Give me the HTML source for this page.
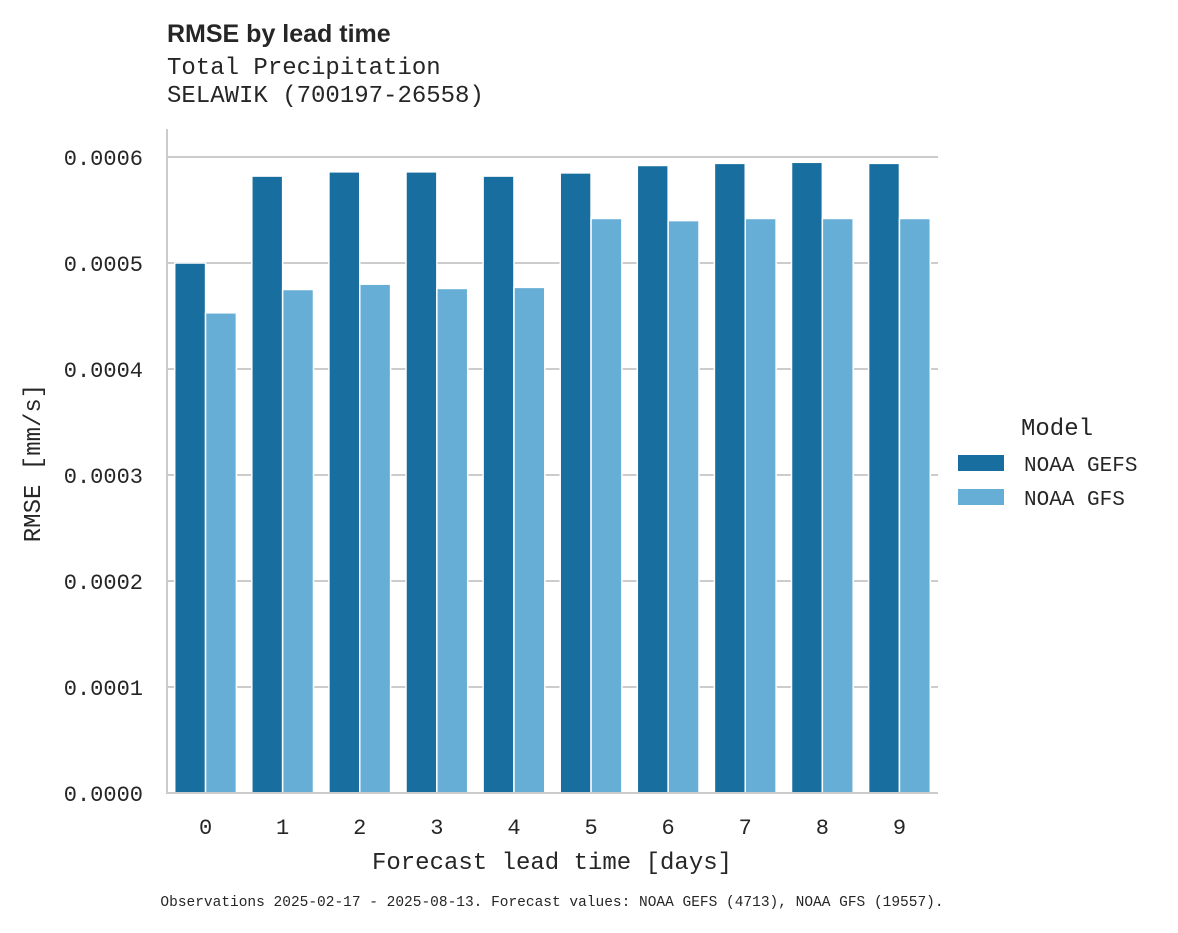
<!DOCTYPE html>
<html><head><meta charset="utf-8"><style>
body{margin:0;background:#fff;}
svg text{font-family:"Liberation Mono","DejaVu Sans Mono",monospace;fill:#262626;}
</style></head><body>
<svg id="chart" width="1178" height="928" xmlns="http://www.w3.org/2000/svg">
<text x="167" y="42" font-size="25" font-weight="bold" style="font-family:'Liberation Sans',sans-serif">RMSE by lead time</text>
<text x="167" y="74" font-size="24">Total Precipitation</text>
<text x="167" y="102" font-size="24">SELAWIK (700197-26558)</text>
<g id="grid"></g>
<g id="bars"></g>
<line x1="167" y1="129" x2="167" y2="794" stroke="#cccccc" stroke-width="2"/>
<line x1="166" y1="793" x2="938" y2="793" stroke="#cccccc" stroke-width="2"/>
<g id="yticks"></g>
<g id="xticks"></g>
<text transform="translate(40,463) rotate(-90)" text-anchor="middle" font-size="24">RMSE [mm/s]</text>
<text x="552" y="869" text-anchor="middle" font-size="24">Forecast lead time [days]</text>
<g>
<text x="1057" y="435" text-anchor="middle" font-size="24">Model</text>
<rect x="958" y="455" width="46" height="16" fill="#186f9f"/>
<text x="1024" y="471" font-size="21">NOAA GEFS</text>
<rect x="958" y="489" width="46" height="16" fill="#67aed6"/>
<text x="1024" y="505" font-size="21">NOAA GFS</text>
</g>
<text x="552" y="906" text-anchor="middle" font-size="14.5">Observations 2025-02-17 - 2025-08-13. Forecast values: NOAA GEFS (4713), NOAA GFS (19557).</text>
</svg>
<script>
const categories = ["0","1","2","3","4","5","6","7","8","9"];
const gefsValues = [0.000500,0.000582,0.000586,0.000586,0.000582,0.000585,0.000592,0.000594,0.000595,0.000594];
const gfsValues = [0.000453,0.000475,0.000480,0.000476,0.000477,0.000542,0.000540,0.000542,0.000542,0.000542];
const yTicks = [0,0.0001,0.0002,0.0003,0.0004,0.0005,0.0006];
const yTickLabels = ["0.0000","0.0001","0.0002","0.0003","0.0004","0.0005","0.0006"];
const NS="http://www.w3.org/2000/svg";
const x0=167,x1=938,y0=793,yTop=157;
function yScale(v){return y0-(v/0.0006)*(y0-yTop);}
const band=(x1-x0)/categories.length;
function xCenter(i){return x0+band*(i+0.5);}
const grid=document.getElementById('grid'),bars=document.getElementById('bars'),yt=document.getElementById('yticks'),xt=document.getElementById('xticks');
yTicks.forEach((t,i)=>{
  const y=yScale(t);
  if(i>0){const l=document.createElementNS(NS,'line');
  
  
  l.setAttribute('x1',x0);l.setAttribute('x2',x1);l.setAttribute('y1',y);l.setAttribute('y2',y);
  l.setAttribute('stroke','#cccccc');l.setAttribute('stroke-width','2');grid.appendChild(l);}
  const tx=document.createElementNS(NS,'text');
  
  
  tx.setAttribute('x',143);tx.setAttribute('y',y+8);tx.setAttribute('text-anchor','end');tx.setAttribute('font-size','22');
  tx.textContent=yTickLabels[i];yt.appendChild(tx);
});
const bw=band*0.4;
function addBar(cx,v,color,name){
  const r=document.createElementNS(NS,'rect');
  
  
  const y=yScale(v);
  r.setAttribute('x',cx-bw/2);r.setAttribute('width',bw);r.setAttribute('y',y);r.setAttribute('height',y0-y);
  r.setAttribute('fill',color);r.setAttribute('stroke','#ffffff');r.setAttribute('stroke-width','1.5');
  bars.appendChild(r);
}
categories.forEach((c,i)=>{
  const cx=xCenter(i);
  addBar(cx-bw/2,gefsValues[i],'#186f9f','bar-gefs-'+c);
  addBar(cx+bw/2,gfsValues[i],'#67aed6','bar-gfs-'+c);
  const tx=document.createElementNS(NS,'text');
  
  
  tx.setAttribute('x',cx);tx.setAttribute('y',834);tx.setAttribute('text-anchor','middle');tx.setAttribute('font-size','22');
  tx.textContent=c;xt.appendChild(tx);
});
</script>
</body></html>
